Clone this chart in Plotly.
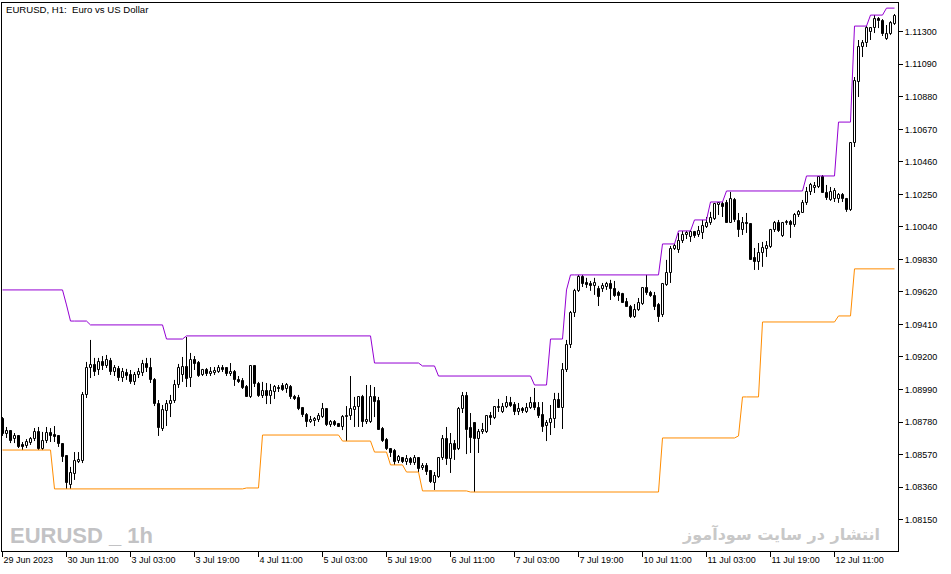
import plotly.graph_objects as go

# ---------------- data (EURUSD H1) ----------------
tick_index = [0, 16, 32, 48, 64, 80, 96, 112, 128, 144, 160, 176, 192, 208]
tick_text = ["29 Jun 2023", "30 Jun 11:00", "3 Jul 03:00", "3 Jul 19:00", "4 Jul 11:00",
             "5 Jul 03:00", "5 Jul 19:00", "6 Jul 11:00", "7 Jul 03:00", "7 Jul 19:00",
             "10 Jul 11:00", "11 Jul 03:00", "11 Jul 19:00", "12 Jul 11:00"]

price_ticks = [1.08150, 1.08360, 1.08570, 1.08780, 1.08990, 1.09200, 1.09410, 1.09620,
               1.09830, 1.10040, 1.10250, 1.10460, 1.10670, 1.10880, 1.11090, 1.11300]

open_ = [
    1.08799, 1.08703, 1.08722, 1.08670, 1.08690, 1.08632, 1.08625, 1.08644, 1.08670, 1.08716,
    1.08606, 1.08657, 1.08709, 1.08696, 1.08690, 1.08638, 1.08561, 1.08373, 1.08444, 1.08522,
    1.08528, 1.08955, 1.09129, 1.09148, 1.09116, 1.09168, 1.09142, 1.09174, 1.09103, 1.09123,
    1.09064, 1.09097, 1.09084, 1.09039, 1.09084, 1.09097, 1.09155, 1.09129, 1.09052, 1.08896,
    1.08735, 1.08851, 1.08896, 1.08916, 1.09019, 1.09084, 1.09135, 1.09064, 1.09181, 1.09161,
    1.09084, 1.09116, 1.09090, 1.09097, 1.09103, 1.09129, 1.09129, 1.09090, 1.09103, 1.09052,
    1.09045, 1.09006, 1.08942, 1.09142, 1.09026, 1.08948, 1.08981, 1.08948, 1.08974, 1.09000,
    1.09013, 1.08993, 1.09006, 1.08942, 1.08935, 1.08870, 1.08825, 1.08780, 1.08786, 1.08793,
    1.08812, 1.08864, 1.08761, 1.08780, 1.08767, 1.08748, 1.08812, 1.08819, 1.08857, 1.08877,
    1.08942, 1.08780, 1.08780, 1.08942, 1.08916, 1.08735, 1.08664, 1.08606, 1.08593, 1.08528,
    1.08548, 1.08522, 1.08541, 1.08515, 1.08548, 1.08483, 1.08496, 1.08464, 1.08386, 1.08425,
    1.08548, 1.08670, 1.08541, 1.08638, 1.08606, 1.08864, 1.08948, 1.08741, 1.08774, 1.08670,
    1.08716, 1.08716, 1.08819, 1.08806, 1.08870, 1.08845, 1.08877, 1.08903, 1.08890, 1.08845,
    1.08864, 1.08845, 1.08870, 1.08903, 1.08870, 1.08825, 1.08754, 1.08774, 1.08799, 1.08922,
    1.08870, 1.09116, 1.09277, 1.09484, 1.09627, 1.09717, 1.09678, 1.09672, 1.09659, 1.09640,
    1.09640, 1.09652, 1.09672, 1.09640, 1.09614, 1.09607, 1.09555, 1.09523, 1.09458, 1.09503,
    1.09542, 1.09646, 1.09614, 1.09594, 1.09536, 1.09471, 1.09665, 1.09743, 1.09898, 1.09891,
    1.09949, 1.09988, 1.09975, 1.10007, 1.09988, 1.10001, 1.10040, 1.10065, 1.10091, 1.10182,
    1.10188, 1.10195, 1.10065, 1.10214, 1.10078, 1.10020, 1.10065, 1.10059, 1.09840, 1.09814,
    1.09872, 1.09898, 1.09911, 1.10020, 1.10065, 1.09982, 1.10065, 1.10072, 1.10053, 1.10117,
    1.10130, 1.10195, 1.10266, 1.10291, 1.10298, 1.10362, 1.10259, 1.10214, 1.10220, 1.10220,
    1.10246, 1.10220, 1.10149, 1.10582, 1.10976, 1.11202, 1.11227, 1.11298, 1.11324, 1.11382,
    1.11369, 1.11253, 1.11285, 1.11350,
]

high = [
    1.08812, 1.08748, 1.08728, 1.08709, 1.08696, 1.08651, 1.08670, 1.08683, 1.08741, 1.08748,
    1.08716, 1.08748, 1.08741, 1.08754, 1.08696, 1.08644, 1.08567, 1.08490, 1.08586, 1.08586,
    1.08974, 1.09168, 1.09310, 1.09194, 1.09194, 1.09206, 1.09213, 1.09194, 1.09148, 1.09142,
    1.09129, 1.09123, 1.09116, 1.09103, 1.09129, 1.09181, 1.09194, 1.09194, 1.09064, 1.08922,
    1.08890, 1.08922, 1.08955, 1.09052, 1.09155, 1.09200, 1.09329, 1.09226, 1.09206, 1.09174,
    1.09123, 1.09129, 1.09135, 1.09135, 1.09148, 1.09148, 1.09135, 1.09161, 1.09116, 1.09077,
    1.09064, 1.09019, 1.09142, 1.09148, 1.09039, 1.09039, 1.09032, 1.09026, 1.09019, 1.09019,
    1.09032, 1.09032, 1.09019, 1.08955, 1.08955, 1.08877, 1.08838, 1.08819, 1.08812, 1.08838,
    1.08903, 1.08870, 1.08793, 1.08793, 1.08774, 1.08825, 1.08883, 1.09077, 1.08942, 1.08948,
    1.08955, 1.09019, 1.09019, 1.09006, 1.08942, 1.08748, 1.08677, 1.08612, 1.08606, 1.08567,
    1.08554, 1.08567, 1.08554, 1.08567, 1.08554, 1.08515, 1.08515, 1.08470, 1.08457, 1.08554,
    1.08696, 1.08748, 1.08709, 1.08664, 1.08877, 1.08974, 1.08974, 1.08838, 1.08780, 1.08735,
    1.08774, 1.08825, 1.08845, 1.08883, 1.08929, 1.08903, 1.08948, 1.08942, 1.08909, 1.08903,
    1.08877, 1.08903, 1.08942, 1.09000, 1.08909, 1.08909, 1.08793, 1.08890, 1.08968, 1.08968,
    1.09161, 1.09310, 1.09497, 1.09640, 1.09730, 1.09730, 1.09711, 1.09691, 1.09711, 1.09659,
    1.09678, 1.09685, 1.09698, 1.09691, 1.09627, 1.09614, 1.09581, 1.09536, 1.09542, 1.09581,
    1.09652, 1.09730, 1.09627, 1.09620, 1.09549, 1.09678, 1.09827, 1.09917, 1.09930, 1.10001,
    1.10014, 1.10014, 1.10020, 1.10014, 1.10046, 1.10085, 1.10104, 1.10137, 1.10195, 1.10201,
    1.10201, 1.10214, 1.10266, 1.10227, 1.10130, 1.10104, 1.10130, 1.10065, 1.09904, 1.09936,
    1.09943, 1.09949, 1.10027, 1.10078, 1.10085, 1.10072, 1.10085, 1.10085, 1.10130, 1.10149,
    1.10214, 1.10298, 1.10324, 1.10330, 1.10362, 1.10375, 1.10311, 1.10298, 1.10291, 1.10259,
    1.10259, 1.10227, 1.10588, 1.11008, 1.11247, 1.11247, 1.11337, 1.11331, 1.11408, 1.11395,
    1.11382, 1.11344, 1.11369, 1.11415,
]

low = [
    1.08690, 1.08677, 1.08644, 1.08644, 1.08612, 1.08599, 1.08612, 1.08632, 1.08657, 1.08599,
    1.08599, 1.08644, 1.08651, 1.08651, 1.08619, 1.08522, 1.08348, 1.08348, 1.08406, 1.08515,
    1.08515, 1.08935, 1.09064, 1.09077, 1.09084, 1.09116, 1.09129, 1.09084, 1.09077, 1.09045,
    1.09039, 1.09052, 1.09026, 1.09019, 1.09064, 1.09077, 1.09103, 1.09032, 1.08883, 1.08690,
    1.08722, 1.08754, 1.08812, 1.08903, 1.09000, 1.09039, 1.09006, 1.09006, 1.09116, 1.09071,
    1.09077, 1.09077, 1.09077, 1.09084, 1.09097, 1.09103, 1.09077, 1.09077, 1.09013, 1.09032,
    1.08993, 1.08942, 1.08935, 1.09006, 1.08942, 1.08935, 1.08896, 1.08896, 1.08929, 1.08974,
    1.08981, 1.08968, 1.08929, 1.08922, 1.08857, 1.08812, 1.08748, 1.08774, 1.08754, 1.08780,
    1.08806, 1.08754, 1.08748, 1.08754, 1.08748, 1.08728, 1.08657, 1.08793, 1.08748, 1.08748,
    1.08748, 1.08767, 1.08774, 1.08812, 1.08728, 1.08651, 1.08599, 1.08554, 1.08503, 1.08515,
    1.08515, 1.08503, 1.08503, 1.08503, 1.08457, 1.08470, 1.08438, 1.08386, 1.08341, 1.08419,
    1.08535, 1.08503, 1.08451, 1.08535, 1.08599, 1.08838, 1.08573, 1.08580, 1.08328, 1.08580,
    1.08703, 1.08709, 1.08761, 1.08799, 1.08845, 1.08838, 1.08870, 1.08877, 1.08825, 1.08825,
    1.08838, 1.08838, 1.08864, 1.08857, 1.08806, 1.08716, 1.08657, 1.08696, 1.08741, 1.08870,
    1.08735, 1.09103, 1.09258, 1.09458, 1.09620, 1.09652, 1.09646, 1.09627, 1.09601, 1.09529,
    1.09620, 1.09633, 1.09568, 1.09588, 1.09562, 1.09549, 1.09523, 1.09452, 1.09452, 1.09497,
    1.09536, 1.09601, 1.09588, 1.09503, 1.09426, 1.09458, 1.09659, 1.09678, 1.09891, 1.09872,
    1.09936, 1.09962, 1.09943, 1.09969, 1.09975, 1.09962, 1.10033, 1.10053, 1.10085, 1.10117,
    1.10104, 1.10065, 1.10065, 1.10072, 1.09975, 1.09988, 1.10001, 1.09827, 1.09762, 1.09762,
    1.09782, 1.09846, 1.09904, 1.10007, 1.10007, 1.09975, 1.10053, 1.09969, 1.10040, 1.10104,
    1.10130, 1.10182, 1.10246, 1.10259, 1.10291, 1.10259, 1.10214, 1.10208, 1.10201, 1.10195,
    1.10201, 1.10137, 1.10143, 1.10556, 1.10879, 1.11137, 1.11202, 1.11247, 1.11292, 1.11324,
    1.11273, 1.11247, 1.11279, 1.11344,
]

close = [
    1.08703, 1.08722, 1.08657, 1.08690, 1.08619, 1.08619, 1.08651, 1.08670, 1.08716, 1.08606,
    1.08657, 1.08709, 1.08690, 1.08683, 1.08638, 1.08554, 1.08386, 1.08451, 1.08528, 1.08535,
    1.08955, 1.09129, 1.09148, 1.09103, 1.09168, 1.09142, 1.09181, 1.09103, 1.09129, 1.09064,
    1.09103, 1.09077, 1.09039, 1.09084, 1.09103, 1.09155, 1.09129, 1.09052, 1.08896, 1.08741,
    1.08857, 1.08896, 1.08916, 1.09019, 1.09129, 1.09135, 1.09058, 1.09181, 1.09155, 1.09077,
    1.09116, 1.09090, 1.09103, 1.09110, 1.09129, 1.09116, 1.09090, 1.09103, 1.09052, 1.09039,
    1.09000, 1.08942, 1.09142, 1.09026, 1.08948, 1.08981, 1.08948, 1.08981, 1.09006, 1.08993,
    1.08987, 1.09019, 1.08942, 1.08929, 1.08864, 1.08825, 1.08780, 1.08793, 1.08799, 1.08819,
    1.08864, 1.08761, 1.08780, 1.08761, 1.08748, 1.08812, 1.08819, 1.08864, 1.08877, 1.08942,
    1.08780, 1.08793, 1.08942, 1.08909, 1.08728, 1.08657, 1.08606, 1.08580, 1.08522, 1.08554,
    1.08522, 1.08541, 1.08515, 1.08548, 1.08477, 1.08496, 1.08457, 1.08393, 1.08432, 1.08548,
    1.08670, 1.08541, 1.08638, 1.08599, 1.08864, 1.08948, 1.08728, 1.08677, 1.08670, 1.08716,
    1.08728, 1.08819, 1.08806, 1.08877, 1.08877, 1.08877, 1.08903, 1.08883, 1.08845, 1.08864,
    1.08851, 1.08870, 1.08903, 1.08870, 1.08819, 1.08748, 1.08774, 1.08799, 1.08922, 1.08870,
    1.09116, 1.09277, 1.09484, 1.09627, 1.09717, 1.09672, 1.09665, 1.09659, 1.09678, 1.09588,
    1.09659, 1.09672, 1.09640, 1.09594, 1.09594, 1.09549, 1.09523, 1.09458, 1.09503, 1.09549,
    1.09646, 1.09614, 1.09594, 1.09523, 1.09458, 1.09672, 1.09743, 1.09898, 1.09917, 1.09949,
    1.09988, 1.10001, 1.10007, 1.09982, 1.10014, 1.10046, 1.10065, 1.10098, 1.10188, 1.10195,
    1.10169, 1.10065, 1.10220, 1.10085, 1.10020, 1.10065, 1.10059, 1.09827, 1.09814, 1.09872,
    1.09904, 1.09917, 1.10020, 1.10065, 1.10014, 1.10065, 1.10072, 1.10053, 1.10117, 1.10137,
    1.10195, 1.10266, 1.10311, 1.10304, 1.10362, 1.10259, 1.10227, 1.10266, 1.10272, 1.10246,
    1.10220, 1.10149, 1.10582, 1.10982, 1.11202, 1.11227, 1.11324, 1.11324, 1.11382, 1.11369,
    1.11285, 1.11285, 1.11356, 1.11402,
]

# channel lines: (level, number of bars at that level)
upper_levels = [1.09633, 1.09536, 1.09432, 1.09407, 1.09316, 1.09336, 1.09161, 1.09142,
                1.09077, 1.09019, 1.09316, 1.09633, 1.09730, 1.09930, 1.10014, 1.10085,
                1.10201, 1.10272, 1.10369, 1.10717, 1.11337, 1.11408, 1.11453]
upper_bars = [16, 1, 5, 19, 5, 47, 12, 4, 24, 4, 4, 1, 23, 4, 4, 4, 4, 20, 8, 4, 4, 4, 3]

lower_levels = [1.08599, 1.08348, 1.08354, 1.08696, 1.08657, 1.08586, 1.08503, 1.08457,
                1.08335, 1.08328, 1.08677, 1.08690, 1.08942, 1.09426, 1.09465, 1.09769]
lower_bars = [13, 48, 4, 20, 8, 4, 4, 4, 12, 48, 19, 1, 5, 19, 4, 11]

# ---------------- build ----------------
bars = list(range(len(close)))
upper = [v for v, n in zip(upper_levels, upper_bars) for _ in range(n)]
lower = [v for v, n in zip(lower_levels, lower_bars) for _ in range(n)]

body_base = [min(o, c) for o, c in zip(open_, close)]
body_size = [abs(c - o) for o, c in zip(open_, close)]
body_fill = ["white" if c >= o else "black" for o, c in zip(open_, close)]

wick_x, wick_y = [], []
for i, o, h, l, c in zip(bars, open_, high, low, close):
    top, bot = max(o, c), min(o, c)
    if h > top:
        wick_x += [i, i, None]
        wick_y += [top, h, None]
    if l < bot:
        wick_x += [i, i, None]
        wick_y += [l, bot, None]

fig = go.Figure()
fig.add_trace(go.Bar(
    x=bars, y=body_size, base=body_base, width=0.5,
    marker=dict(color=body_fill, line=dict(color="black", width=1)),
    showlegend=False, hoverinfo="skip",
))
fig.add_trace(go.Scatter(x=wick_x, y=wick_y, mode="lines", connectgaps=False,
                         line=dict(color="black", width=1), showlegend=False, hoverinfo="skip"))
fig.add_trace(go.Scatter(x=bars, y=upper, mode="lines",
                         line=dict(color="#9400D3", width=1), showlegend=False, hoverinfo="skip"))
fig.add_trace(go.Scatter(x=bars, y=lower, mode="lines",
                         line=dict(color="#FF8C00", width=1), showlegend=False, hoverinfo="skip"))

tick_font = dict(family="Liberation Sans", size=9, color="black")

fig.update_layout(
    width=951, height=574,
    margin=dict(l=2, r=53, t=3, b=23),
    paper_bgcolor="white", plot_bgcolor="white",
    showlegend=False, bargap=0,
    xaxis=dict(
        range=[-0.125, 223.875], tickmode="array", tickvals=tick_index, ticktext=tick_text,
        ticks="outside", ticklen=5, tickcolor="black", tickwidth=1,
        ticklabelposition="outside right",
        showline=True, linecolor="black", linewidth=1, mirror=True,
        showgrid=False, zeroline=False, tickfont=tick_font, fixedrange=True,
    ),
    yaxis=dict(
        side="right", range=[1.07947, 1.11486], tickmode="array", tickvals=price_ticks,
        tickformat=".5f", ticks="outside", ticklen=4, tickcolor="black", tickwidth=1,
        showline=True, linecolor="black", linewidth=1, mirror=True,
        showgrid=False, zeroline=False, tickfont=tick_font, fixedrange=True,
    ),
)

fig.add_annotation(xref="paper", yref="paper", x=0.0022, y=0.989, xanchor="left", yanchor="middle",
                   text="EURUSD, H1:  Euro vs US Dollar", showarrow=False,
                   font=dict(family="Liberation Sans", size=9.6, color="black"))
fig.add_annotation(xref="paper", yref="paper", x=0.0067, y=0.028, xanchor="left", yanchor="middle",
                   text="<b>EURUSD _ 1h</b>", showarrow=False,
                   font=dict(family="Liberation Sans", size=22, color="#c2c2c4"))
fig.add_annotation(xref="paper", yref="paper", x=0.982, y=0.031, xanchor="right", yanchor="middle",
                   text="<b>انتشار در سایت سودآموز</b>", showarrow=False,
                   font=dict(family="DejaVu Sans", size=16, color="#c8c8c8"))

fig.write_html("out.html", config={"displayModeBar": False},
               post_script="document.body.style.margin='0px';")
